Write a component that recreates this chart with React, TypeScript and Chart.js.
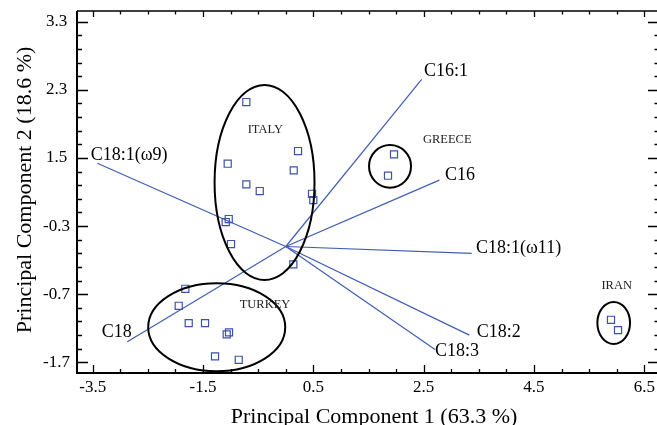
import React, { useEffect, useRef } from 'react';
import { Chart, registerables } from 'chart.js';

Chart.register(...registerables);

// ---- Scores (PC1, PC2) ----
const italyX = [-0.715, 0.222, -1.053, 0.144, -0.715, -0.472, 0.476, 0.499, -1.034, -1.089, -0.993, 0.137];
const italyY = [2.121, 1.401, 1.215, 1.118, 0.912, 0.814, 0.774, 0.682, 0.403, 0.359, 0.036, -0.262];
const greeceX = [1.962, 1.853];
const greeceY = [1.353, 1.039];
const iranX = [5.896, 6.023];
const iranY = [-1.076, -1.227];
const turkeyX = [-1.821, -1.941, -1.760, -1.464, -1.029, -1.071, -1.283, -0.853];
const turkeyY = [-0.621, -0.870, -1.124, -1.124, -1.261, -1.290, -1.613, -1.663];

// ---- Loadings (line end points from origin) ----
const loadingNames = ['C16:1', 'C16', 'C18:1(\u03c911)', 'C18:2', 'C18:3', 'C18', 'C18:1(\u03c99)'];
const loadingX = [2.464, 2.784, 3.371, 3.328, 2.706, -2.873, -3.417];
const loadingY = [2.454, 0.975, -0.101, -1.301, -1.511, -1.399, 1.221];

// ---- Group ellipses ----
const groupNames = ['ITALY', 'GREECE', 'TURKEY', 'IRAN'];
const ellipseCX = [-0.385, 1.890, -1.252, 5.945];
const ellipseCY = [0.939, 1.177, -1.186, -1.124];
const ellipseRX = [0.906, 0.381, 1.242, 0.296];
const ellipseRY = [1.432, 0.313, 0.646, 0.308];
const groupLabelX = [-0.371, 2.927, -0.376, 6.0];
const groupLabelY = [1.710, 1.563, -0.860, -0.577];

// ---- Axes ----
const xMin = -3.785;
const xMax = 6.73;
const yMin = -1.857;
const yMax = 3.457;
const xTickValues = [-3.5, -1.5, 0.5, 2.5, 4.5, 6.5];
const xTickLabels = ['-3.5', '-1.5', '0.5', '2.5', '4.5', '6.5'];
const yTickValues = [3.3, 2.3, 1.3, 0.3, -0.7, -1.7];
const yTickLabels = ['3.3', '2.3', '1.5', '-0.3', '-0.7', '-1.7'];
const xTitle = 'Principal Component 1 (63.3 %)';
const yTitle = 'Principal Component 2 (18.6 %)';

// ---- Styles ----
const SERIF = '"Liberation Serif", "Times New Roman", serif';
const POINT_COLOR = '#3a53a8';
const LINE_COLOR = '#3f5db3';
const X_MINOR_STEP = 0.5;
const Y_MINOR_STEP = 0.2;
const loadingLabelOffsets: [number, number][] = [
  [2.3, -8.3], [5.7, -5], [4.3, -5], [7.4, -3.3], [0, 1.7], [-25.6, -10], [-6.6, -7.6],
];

const decorPlugin = {
  id: 'decor',
  afterDraw(chart: any) {
    const ctx: CanvasRenderingContext2D = chart.ctx;
    const xs = chart.scales.x;
    const ys = chart.scales.y;
    const { left, right, top, bottom } = chart.chartArea;
    ctx.save();

    // ellipses
    ctx.strokeStyle = '#000';
    ctx.lineWidth = 2;
    for (let i = 0; i < groupNames.length; i++) {
      const cx = xs.getPixelForValue(ellipseCX[i]);
      const cy = ys.getPixelForValue(ellipseCY[i]);
      const rx = Math.abs(xs.getPixelForValue(ellipseCX[i] + ellipseRX[i]) - cx);
      const ry = Math.abs(ys.getPixelForValue(ellipseCY[i] + ellipseRY[i]) - cy);
      ctx.beginPath();
      ctx.ellipse(cx, cy, rx, ry, 0, 0, Math.PI * 2);
      ctx.stroke();
    }

    // group labels
    ctx.fillStyle = '#222';
    ctx.font = `12.5px ${SERIF}`;
    ctx.textAlign = 'center';
    ctx.textBaseline = 'middle';
    for (let i = 0; i < groupNames.length; i++) {
      ctx.fillText(groupNames[i], xs.getPixelForValue(groupLabelX[i]), ys.getPixelForValue(groupLabelY[i]));
    }

    // loading labels
    ctx.fillStyle = '#000';
    ctx.font = `18px ${SERIF}`;
    ctx.textAlign = 'left';
    for (let i = 0; i < loadingNames.length; i++) {
      const px = xs.getPixelForValue(loadingX[i]) + loadingLabelOffsets[i][0];
      const py = ys.getPixelForValue(loadingY[i]) + loadingLabelOffsets[i][1];
      ctx.fillText(loadingNames[i], px, py);
    }

    // frame
    const rightEdge = right + 2;
    ctx.strokeStyle = '#000';
    ctx.lineWidth = 2;
    ctx.beginPath();
    ctx.moveTo(left, top);
    ctx.lineTo(left, bottom + 1);
    ctx.moveTo(left - 1, bottom);
    ctx.lineTo(rightEdge, bottom);
    ctx.stroke();
    ctx.lineWidth = 1.4;
    ctx.beginPath();
    ctx.moveTo(left, top);
    ctx.lineTo(rightEdge, top);
    ctx.moveTo(rightEdge, top);
    ctx.lineTo(rightEdge, bottom);
    ctx.stroke();

    // ticks (inward)
    ctx.lineWidth = 1.3;
    const isMajor = (v: number, arr: number[]) => arr.some((a) => Math.abs(a - v) < 1e-6);
    const xStarts: number[] = [];
    for (let v = xTickValues[0]; v >= xMin - 1e-9; v -= X_MINOR_STEP) xStarts.push(v);
    for (let v = xTickValues[0] + X_MINOR_STEP; v <= xMax + 1e-9; v += X_MINOR_STEP) xStarts.push(v);
    ctx.beginPath();
    for (const v of xStarts) {
      const px = Math.round(xs.getPixelForValue(v)) + 0.5;
      const maj = isMajor(v, xTickValues);
      ctx.moveTo(px, bottom);
      ctx.lineTo(px, bottom - (maj ? 8 : 4));
      ctx.moveTo(px, top);
      ctx.lineTo(px, top + (maj ? 6 : 3.5));
    }
    const yStarts: number[] = [];
    for (let v = yTickValues[0]; v <= yMax + 1e-9; v += Y_MINOR_STEP) yStarts.push(v);
    for (let v = yTickValues[0] - Y_MINOR_STEP; v >= yMin - 1e-9; v -= Y_MINOR_STEP) yStarts.push(v);
    for (const v of yStarts) {
      const py = Math.round(ys.getPixelForValue(v)) + 0.5;
      const maj = isMajor(Math.round(v * 10) / 10, yTickValues);
      ctx.moveTo(left, py);
      ctx.lineTo(left + (maj ? 11 : 5), py);
      ctx.moveTo(rightEdge, py);
      ctx.lineTo(rightEdge - (maj ? 11 : 4.5), py);
    }
    ctx.stroke();

    // axis titles
    ctx.fillStyle = '#000';
    ctx.font = `22px ${SERIF}`;
    ctx.textAlign = 'center';
    ctx.textBaseline = 'alphabetic';
    ctx.fillText(xTitle, 374, 422.5);
    ctx.save();
    ctx.translate(31, 190);
    ctx.rotate(-Math.PI / 2);
    ctx.fillText(yTitle, 0, 0);
    ctx.restore();

    ctx.restore();
  },
};

export default function App() {
  const ref = useRef<HTMLCanvasElement>(null);
  useEffect(() => {
    document.body.style.margin = '0';
    const canvas = ref.current!;
    const groups = [
      { name: 'ITALY', xs: italyX, ys: italyY },
      { name: 'GREECE', xs: greeceX, ys: greeceY },
      { name: 'TURKEY', xs: turkeyX, ys: turkeyY },
      { name: 'IRAN', xs: iranX, ys: iranY },
    ];
    const pointDatasets = groups.map((g) => ({
      label: g.name,
      data: g.xs.map((x, i) => ({ x, y: g.ys[i] })),
      pointStyle: 'rect',
      pointRadius: 5,
      borderWidth: 1.2,
      borderColor: POINT_COLOR,
      backgroundColor: 'rgba(0,0,0,0)',
      showLine: false,
      order: 0,
    }));
    const lineDatasets = loadingNames.map((n, i) => ({
      label: n,
      data: [{ x: 0, y: 0 }, { x: loadingX[i], y: loadingY[i] }],
      borderColor: LINE_COLOR,
      borderWidth: 1.2,
      pointRadius: 0,
      showLine: true,
      fill: false,
      tension: 0,
      order: 1,
    }));
    const chart = new Chart(canvas, {
      type: 'scatter',
      data: { datasets: [...pointDatasets, ...lineDatasets] as any },
      options: {
        animation: false,
        responsive: false,
        layout: { autoPadding: false, padding: { top: 11, left: 0, right: 0, bottom: 0 } },
        plugins: { legend: { display: false }, tooltip: { enabled: false } },
        scales: {
          x: {
            type: 'linear',
            min: xMin,
            max: xMax,
            grid: { display: false, drawTicks: false },
            border: { display: false },
            afterBuildTicks: (s: any) => {
              s.ticks = xTickValues.map((v) => ({ value: v }));
            },
            afterFit: (s: any) => {
              s.height = 52;
              s.paddingLeft = 0;
              s.paddingRight = 0;
            },
            ticks: {
              autoSkip: false,
              maxRotation: 0,
              minRotation: 0,
              padding: 4,
              color: '#000',
              font: { family: SERIF, size: 17 },
              callback: (_v: any, i: number) => xTickLabels[i],
            },
          },
          y: {
            type: 'linear',
            min: yMin,
            max: yMax,
            grid: { display: false, drawTicks: false },
            border: { display: false },
            afterBuildTicks: (s: any) => {
              s.ticks = yTickValues.map((v) => ({ value: v }));
            },
            afterFit: (s: any) => {
              s.width = 77;
              s.paddingTop = 0;
              s.paddingBottom = 0;
            },
            ticks: {
              autoSkip: false,
              padding: 7,
              crossAlign: 'center',
              color: '#000',
              font: { family: SERIF, size: 17 },
              callback: (_v: any, i: number) => yTickLabels[i],
            },
          },
        },
      } as any,
      plugins: [decorPlugin],
    });
    return () => chart.destroy();
  }, []);
  return (
    <div style={{ position: 'absolute', left: 0, top: 0, width: 657, height: 425 }}>
      <canvas ref={ref} width={657} height={425} style={{ display: 'block' }} />
    </div>
  );
}
